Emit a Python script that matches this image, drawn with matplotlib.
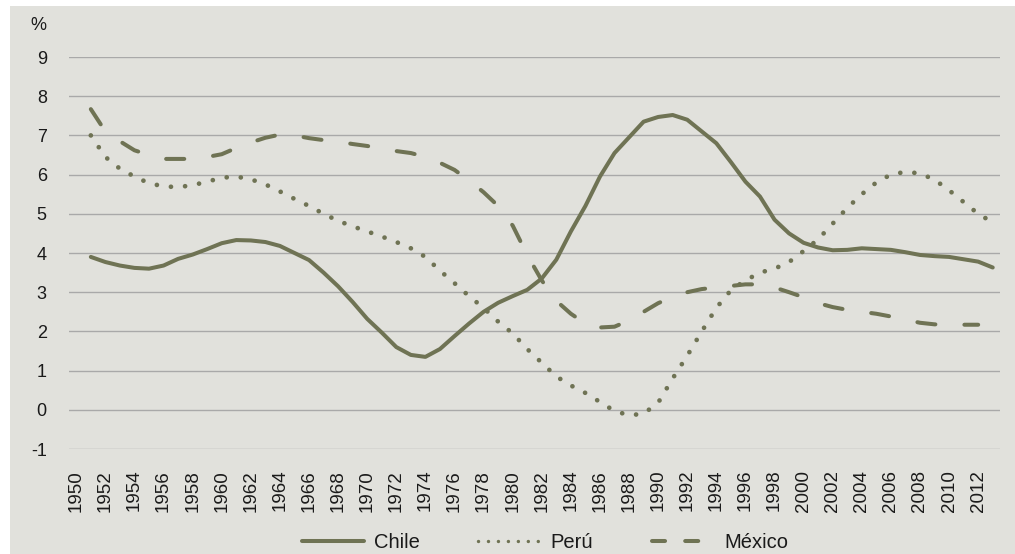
import matplotlib
matplotlib.use("Agg")
import matplotlib.pyplot as plt
from matplotlib.lines import Line2D
from matplotlib.patches import Rectangle

plt.rcParams['font.family'] = ['Liberation Sans', 'DejaVu Sans']

# años y series (%)
years = list(range(1950, 2014))
chile_years = list(range(1951, 2014))
chile = [3.9, 3.77, 3.68, 3.62, 3.6, 3.68, 3.85, 3.96, 4.1, 4.25,
         4.33, 4.32, 4.28, 4.18, 4.0, 3.82, 3.5, 3.15, 2.75, 2.32,
         1.97, 1.6, 1.4, 1.35, 1.55, 1.88, 2.2, 2.5, 2.73, 2.9,
         3.06, 3.35, 3.83, 4.55, 5.2, 5.95, 6.55, 6.95, 7.35, 7.47,
         7.52, 7.4, 7.1, 6.8, 6.32, 5.82, 5.44, 4.85, 4.5, 4.26,
         4.14, 4.07, 4.08, 4.12, 4.1, 4.08, 4.02, 3.95, 3.92, 3.9,
         3.84, 3.78, 3.63]
peru_years = list(range(1951, 2014))
peru = [7.0, 6.45, 6.15, 5.95, 5.78, 5.7, 5.68, 5.73, 5.82, 5.92,
        5.95, 5.88, 5.75, 5.57, 5.38, 5.2, 5.0, 4.82, 4.68, 4.55,
        4.42, 4.28, 4.12, 3.9, 3.55, 3.23, 2.9, 2.6, 2.25, 1.95,
        1.55, 1.2, 0.85, 0.62, 0.43, 0.2, -0.03, -0.14, -0.1, 0.18,
        0.8, 1.38, 2.0, 2.6, 3.05, 3.3, 3.5, 3.6, 3.77, 4.05,
        4.35, 4.75, 5.15, 5.5, 5.8, 6.0, 6.07, 6.03, 5.87, 5.6,
        5.3, 5.0, 4.78]
mexico_years = list(range(1951, 2013))
mexico = [7.67, 7.1, 6.85, 6.62, 6.5, 6.4, 6.4, 6.4, 6.45, 6.52,
          6.68, 6.82, 6.94, 7.02, 7.0, 6.93, 6.88, 6.84, 6.78, 6.73,
          6.67, 6.6, 6.55, 6.45, 6.3, 6.12, 5.85, 5.55, 5.2, 4.7,
          3.95, 3.3, 2.78, 2.45, 2.2, 2.1, 2.12, 2.28, 2.5, 2.72,
          2.88, 3.0, 3.08, 3.12, 3.16, 3.2, 3.2, 3.12, 3.0, 2.87,
          2.72, 2.62, 2.55, 2.5, 2.45, 2.38, 2.3, 2.22, 2.18, 2.17,
          2.17, 2.17]
yticks = list(range(-1, 10))
xticks = list(range(1950, 2013, 2))

color = '#6f7354'
bg = '#e1e1dc'
lw = 2.9

fig = plt.figure(figsize=(10.15, 5.54), dpi=100, facecolor='white')
# fondo gris del recuadro
fig.patches.append(Rectangle((10 / 1015, 0), 1 - 10 / 1015, 1 - 6 / 554,
                             transform=fig.transFigure, facecolor=bg,
                             edgecolor='none', zorder=-10))

ax = fig.add_axes([69 / 1015, 1 - 449 / 554, (1000 - 69) / 1015, (449 - 57) / 554])
ax.set_facecolor('none')

ax.plot(chile_years, chile, color=color, lw=lw, solid_capstyle='round',
        solid_joinstyle='round', zorder=3)
ax.plot(peru_years, peru, color=color, lw=3.4, linestyle=(0, (0.01, 3.0)),
        dash_capstyle='round', zorder=3)
ax.plot(mexico_years, mexico, color=color, lw=lw, linestyle=(0, (4.5, 7.2)),
        dash_capstyle='round', zorder=3)

ax.set_xlim(years[0] - 0.5, years[-1] + 0.5)
ax.set_ylim(-1, 9)
ax.set_yticks(yticks)
ax.set_yticklabels([str(v) for v in yticks])
ax.set_xticks(xticks)
ax.set_xticklabels([str(v) for v in xticks], rotation=90)
ax.grid(axis='y', color='#a9a9a9', lw=1.0, zorder=1)
ax.tick_params(axis='both', length=0, colors='#1a1a1a')
ax.tick_params(axis='y', pad=16, labelsize=13)
ax.tick_params(axis='x', pad=15, labelsize=13.5)
for s in ax.spines.values():
    s.set_visible(False)

fig.text(30 / 1015, 1 - 26 / 554, '%', fontsize=13, color='#1a1a1a',
         ha='left', va='center')

handles = [
    Line2D([], [], color=color, lw=lw, solid_capstyle='round'),
    Line2D([], [], color=color, lw=lw * 0.85, linestyle=(0, (0.01, 2.9)),
           dash_capstyle='round'),
    Line2D([], [], color=color, lw=lw, linestyle=(0, (3.24, 5.0)),
           dash_capstyle='round'),
]
fig.legend(handles, ['Chile', 'Perú', 'México'], loc='center',
           bbox_to_anchor=(545 / 1015, 1 - 543 / 554), ncol=3, frameon=False,
           fontsize=14.5, handlelength=3.1, handletextpad=0.5,
           columnspacing=2.9, labelcolor='#1a1a1a')

fig.savefig('out.png', dpi=100, facecolor='white')
